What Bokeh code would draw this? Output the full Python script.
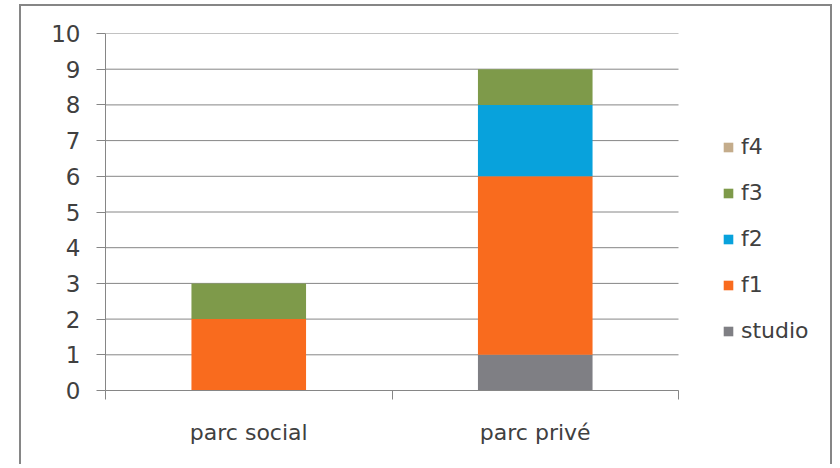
from bokeh.plotting import figure
from bokeh.models import FixedTicker, Legend, LegendItem, Range1d, ColumnDataSource
from bokeh.embed import file_html
from bokeh.resources import INLINE

categories = ["parc social", "parc privé"]
studio = [0, 1]
f1 = [2, 5]
f2 = [0, 2]
f3 = [1, 1]
f4 = [0, 0]
series = ["studio", "f1", "f2", "f3", "f4"]
colors = ["#7F7F84", "#F96B1E", "#08A2DC", "#7E9A4A", "#C4AC8B"]
y_ticks = list(range(0, 11))

# layout (pixels)
PLOT_W = 573      # width of the category area
FRAME_W = 729     # frame incl. legend area on the right
n = len(categories)
x_end = n * FRAME_W / PLOT_W

xpos = [i + 0.5 for i in range(n)]
src = ColumnDataSource(dict(x=xpos, studio=studio, f1=f1, f2=f2, f3=f3, f4=f4))
grid_src = ColumnDataSource(dict(x0=[0] * len(y_ticks), x1=[n] * len(y_ticks), y=y_ticks))

FONT = "DejaVu Sans"
TXT = "#404040"
GRID = "#868686"

p = figure(width=813, height=460, output_backend="svg", toolbar_location=None,
           x_range=Range1d(0, x_end), y_range=Range1d(0, 10),
           min_border_left=84, min_border_top=27, min_border_right=0, min_border_bottom=76)
p.styles = {"border-top": "2px solid #868686", "border-left": "2px solid #868686",
            "border-right": "2px solid #868686", "margin-left": "19px", "margin-top": "4px"}
p.outline_line_color = None
p.background_fill_color = "white"
p.border_fill_color = "white"

# horizontal gridlines across the category area only
p.segment(x0="x0", x1="x1", y0="y", y1="y", source=grid_src, line_color=GRID, line_width=1)

renderers = p.vbar_stack(series, x="x", width=0.4, source=src, color=colors, line_color=None)

# axes
p.xgrid.grid_line_color = None
p.ygrid.grid_line_color = None
p.yaxis.ticker = FixedTicker(ticks=y_ticks)
p.yaxis.axis_line_color = GRID
p.yaxis.major_tick_line_color = GRID
p.yaxis.major_tick_out = 9
p.yaxis.major_tick_in = 0
p.yaxis.minor_tick_line_color = None
p.yaxis.major_label_text_font = FONT
p.yaxis.major_label_text_font_size = "23px"
p.yaxis.major_label_text_color = TXT
p.yaxis.major_label_standoff = 16

p.xaxis.bounds = (0, n)
p.xaxis.ticker = FixedTicker(ticks=xpos, minor_ticks=list(range(n + 1)))
p.xaxis.major_label_overrides = {x: c for x, c in zip(xpos, categories)}
p.xaxis.axis_line_color = GRID
p.xaxis.major_tick_line_color = None
p.xaxis.minor_tick_line_color = GRID
p.xaxis.minor_tick_out = 9
p.xaxis.minor_tick_in = 0
p.xaxis.major_label_text_font = FONT
p.xaxis.major_label_text_font_size = "22px"
p.xaxis.major_label_text_color = TXT
p.xaxis.major_label_standoff = 20

items = [LegendItem(label=s, renderers=[r]) for s, r in zip(series, renderers)]
legend = Legend(items=list(reversed(items)), location=(617, 47),
                border_line_color=None, background_fill_alpha=0,
                glyph_width=12, glyph_height=12, label_standoff=7, spacing=21,
                label_text_font=FONT, label_text_font_size="22px", label_text_color=TXT,
                padding=0, margin=0)
p.add_layout(legend)

open("out.html", "w").write(file_html(p, INLINE))
